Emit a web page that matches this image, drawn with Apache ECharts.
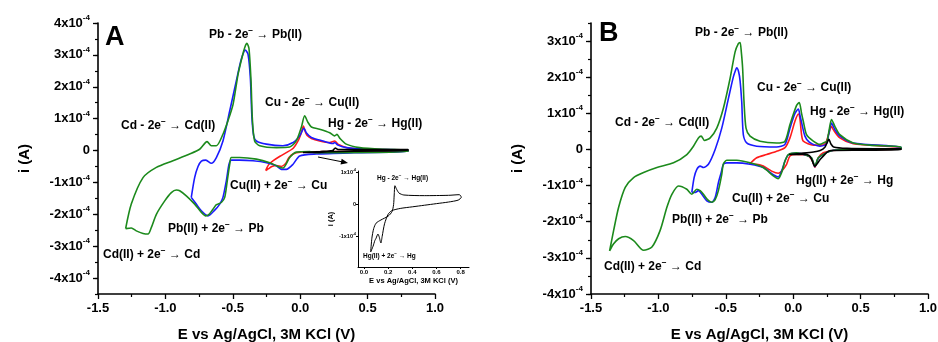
<!DOCTYPE html>
<html>
<head>
<meta charset="utf-8">
<script src="https://cdn.jsdelivr.net/npm/echarts@6/dist/echarts.min.js"></script>
<style>
    html, body { margin: 0; padding: 0; background: #fff; }
    #chart { width: 938px; height: 342px; }
</style>
</head>
<body>
<div id="chart"></div>
<script>
// 电位 E (V) 与电流 i (单位 1x10^-4 A)
// A 图
const aGreen = [
    [-1.295, -2.45], [-1.253, -1.68], [-1.166, -0.85], [-1.067, -0.53], [-0.944, -0.32], [-0.82, -0.11],
    [-0.746, 0.04], [-0.691, 0.28], [-0.659, 0.15], [-0.622, 0.15], [-0.573, 0.51], [-0.536, 0.93],
    [-0.498, 1.45], [-0.461, 2.39], [-0.43, 2.95], [-0.41, 3.25], [-0.395, 3.36], [-0.38, 3.2],
    [-0.365, 2.2], [-0.355, 1.0], [-0.338, 0.3], [-0.3, 0.15], [-0.177, 0.09], [-0.078, 0.11],
    [-0.029, 0.3], [0.008, 0.72], [0.033, 1.09], [0.058, 0.88], [0.083, 0.74], [0.144, 0.67],
    [0.219, 0.56], [0.256, 0.46], [0.273, 0.51], [0.293, 0.39], [0.342, 0.2], [0.441, 0.09],
    [0.614, 0.04], [0.8, 0.02],
    [0.8, -0.03], [0.5, -0.06], [0.12, -0.07], [0.07, -0.03], [-0.029, -0.05], [-0.078, -0.22],
    [-0.128, -0.55], [-0.165, -0.5], [-0.226, -0.38], [-0.325, -0.27], [-0.449, -0.22], [-0.511, -0.22],
    [-0.523, -0.43], [-0.541, -0.95], [-0.56, -1.47], [-0.585, -1.63], [-0.622, -1.7], [-0.647, -1.84],
    [-0.676, -2.0], [-0.701, -2.05], [-0.733, -1.94], [-0.783, -1.68], [-0.845, -1.42], [-0.894, -1.26],
    [-0.919, -1.24], [-0.956, -1.32], [-1.005, -1.58], [-1.067, -2.0], [-1.104, -2.41], [-1.129, -2.62],
    [-1.166, -2.6], [-1.216, -2.52], [-1.253, -2.43], [-1.295, -2.45]
];
const aBlue = [
    [-0.808, -1.47], [-0.783, -0.85], [-0.758, -0.5], [-0.733, -0.33], [-0.7, -0.3], [-0.66, -0.4],
    [-0.622, -0.22], [-0.573, 0.3], [-0.523, 1.24], [-0.474, 2.18], [-0.437, 2.86], [-0.407, 3.15],
    [-0.387, 3.02], [-0.37, 2.29], [-0.358, 1.03], [-0.345, 0.46], [-0.325, 0.3], [-0.251, 0.2],
    [-0.128, 0.15], [-0.053, 0.25], [-0.004, 0.46], [0.028, 0.7], [0.045, 0.56], [0.083, 0.41],
    [0.169, 0.3], [0.243, 0.22], [0.256, 0.25], [0.28, 0.17], [0.342, 0.09], [0.49, 0.04], [0.8, 0.01],
    [0.8, -0.03], [0.4, -0.07], [0.12, -0.11], [-0.004, -0.17], [-0.053, -0.43], [-0.103, -0.59],
    [-0.14, -0.59], [-0.177, -0.48], [-0.25, -0.38], [-0.35, -0.32], [-0.449, -0.3], [-0.511, -0.3],
    [-0.528, -0.43], [-0.548, -0.95], [-0.573, -1.47], [-0.597, -1.68], [-0.634, -1.87], [-0.684, -2.05],
    [-0.733, -1.89], [-0.771, -1.68], [-0.808, -1.47]
];
const aRed = [
    [-0.256, -0.63], [-0.235, -0.45], [-0.2, -0.32], [-0.15, -0.18], [-0.1, -0.06], [-0.05, 0.08],
    [-0.016, 0.3], [0.008, 0.55], [0.024, 0.77], [0.035, 0.62], [0.05, 0.48], [0.083, 0.38],
    [0.144, 0.3], [0.219, 0.25], [0.256, 0.3], [0.28, 0.2], [0.367, 0.07], [0.55, 0.03], [0.8, 0.02],
    [0.8, -0.02], [0.4, -0.03], [0.1, -0.04], [0.0, -0.05], [-0.05, -0.1], [-0.083, -0.22],
    [-0.108, -0.41], [-0.14, -0.5], [-0.175, -0.47], [-0.21, -0.5], [-0.235, -0.57], [-0.256, -0.63]
];
const aBlack = [
    [0.02, -0.06], [0.15, -0.03], [0.24, 0.0], [0.26, 0.08], [0.28, 0.03], [0.4, 0.03], [0.8, 0.03],
    [0.8, 0.0], [0.4, -0.02], [0.2, -0.04], [0.1, -0.06], [0.02, -0.06]
];
// A 图中的小图
const insetBlack = [
    [0.055, -1.48], [0.065, -1.05], [0.08, -0.75], [0.1, -0.58], [0.14, -0.48], [0.2, -0.36],
    [0.232, -0.22], [0.245, 0.0], [0.25, 0.3], [0.256, 0.59], [0.27, 0.48], [0.29, 0.36], [0.33, 0.3],
    [0.5, 0.28], [0.7, 0.29], [0.79, 0.31], [0.806, 0.23], [0.78, 0.14], [0.7, 0.08], [0.6, 0.03],
    [0.5, -0.02], [0.4, -0.07], [0.3, -0.12], [0.23, -0.19], [0.2, -0.3], [0.17, -0.6], [0.15, -1.0],
    [0.14, -1.2], [0.125, -1.0], [0.115, -0.92], [0.1, -1.05], [0.09, -1.12], [0.075, -1.3], [0.055, -1.48]
];
// B 图
const bGreen = [
    [-1.362, -2.81], [-1.332, -2.24], [-1.295, -1.6], [-1.246, -1.05], [-1.184, -0.78], [-1.11, -0.64],
    [-1.011, -0.5], [-0.888, -0.37], [-0.789, -0.14], [-0.74, 0.09], [-0.703, 0.32], [-0.683, 0.37],
    [-0.658, 0.25], [-0.616, 0.32], [-0.567, 0.59], [-0.518, 1.14], [-0.468, 1.97], [-0.431, 2.7],
    [-0.407, 2.93], [-0.394, 2.96], [-0.385, 2.7], [-0.375, 2.24], [-0.365, 1.33], [-0.35, 0.59],
    [-0.32, 0.37], [-0.246, 0.23], [-0.123, 0.18], [-0.061, 0.23], [-0.024, 0.69], [0.025, 1.22],
    [0.045, 1.3], [0.062, 1.0], [0.075, 0.78], [0.099, 0.41], [0.149, 0.23], [0.198, 0.14], [0.235, 0.2],
    [0.25, 0.22], [0.265, 0.5], [0.284, 0.83], [0.309, 0.64], [0.346, 0.41], [0.445, 0.18], [0.568, 0.12],
    [0.8, 0.07],
    [0.8, 0.02], [0.5, 0.0], [0.3, -0.02], [0.25, -0.08], [0.186, -0.23], [0.161, -0.46], [0.136, -0.23],
    [0.099, -0.16], [0.025, -0.09], [-0.036, -0.14], [-0.061, -0.32], [-0.086, -0.64], [-0.111, -0.81],
    [-0.148, -0.73], [-0.222, -0.5], [-0.32, -0.37], [-0.419, -0.3], [-0.493, -0.3], [-0.518, -0.4],
    [-0.53, -0.69], [-0.555, -1.14], [-0.579, -1.39], [-0.604, -1.46], [-0.636, -1.39], [-0.666, -1.24],
    [-0.69, -1.14], [-0.715, -1.1], [-0.752, -1.24], [-0.789, -1.1], [-0.851, -1.01], [-0.9, -1.24],
    [-0.937, -1.6], [-0.987, -2.24], [-1.048, -2.7], [-1.11, -2.79], [-1.184, -2.52], [-1.246, -2.41],
    [-1.295, -2.47], [-1.332, -2.61], [-1.362, -2.81]
];
const bBlue = [
    [-0.752, -1.19], [-0.735, -0.78], [-0.715, -0.55], [-0.69, -0.46], [-0.666, -0.5], [-0.629, -0.41],
    [-0.579, 0.0], [-0.53, 0.59], [-0.48, 1.42], [-0.444, 2.01], [-0.425, 2.22], [-0.419, 2.26],
    [-0.405, 2.15], [-0.394, 1.9], [-0.382, 1.33], [-0.37, 0.41], [-0.345, 0.18], [-0.271, 0.09],
    [-0.123, 0.07], [-0.061, 0.14], [-0.024, 0.59], [0.013, 1.0], [0.038, 1.12], [0.05, 0.95],
    [0.062, 0.75], [0.087, 0.37], [0.12, 0.2], [0.198, 0.09], [0.235, 0.12], [0.25, 0.18], [0.265, 0.45],
    [0.284, 0.73], [0.309, 0.55], [0.346, 0.37], [0.445, 0.18], [0.8, 0.06],
    [0.8, 0.02], [0.5, 0.0], [0.3, -0.02], [0.25, -0.08], [0.186, -0.24], [0.161, -0.48], [0.136, -0.24],
    [0.099, -0.16], [0.025, -0.1], [-0.036, -0.15], [-0.061, -0.32], [-0.086, -0.6], [-0.111, -0.76],
    [-0.148, -0.7], [-0.222, -0.5], [-0.32, -0.41], [-0.419, -0.37], [-0.493, -0.37], [-0.518, -0.41],
    [-0.535, -0.65], [-0.555, -0.92], [-0.579, -1.33], [-0.604, -1.46], [-0.641, -1.42], [-0.678, -1.24],
    [-0.703, -1.14], [-0.727, -1.19], [-0.752, -1.19]
];
const bRed = [
    [-0.325, -0.41], [-0.271, -0.23], [-0.197, -0.14], [-0.123, -0.05], [-0.061, 0.05], [-0.024, 0.32],
    [0.013, 0.78], [0.038, 0.98], [0.05, 0.85], [0.062, 0.41], [0.075, 0.23], [0.149, 0.12], [0.223, 0.12],
    [0.247, 0.23], [0.265, 0.45], [0.284, 0.64], [0.297, 0.55], [0.346, 0.32], [0.445, 0.16], [0.8, 0.05],
    [0.8, 0.01], [0.5, -0.01], [0.321, -0.02], [0.223, -0.09], [0.186, -0.23], [0.161, -0.49],
    [0.136, -0.27], [0.099, -0.16], [0.025, -0.14], [-0.024, -0.18], [-0.049, -0.41], [-0.086, -0.6],
    [-0.111, -0.66], [-0.16, -0.6], [-0.222, -0.46], [-0.271, -0.41], [-0.325, -0.41]
];
const bBlack = [
    [-0.03, -0.14], [0.05, -0.11], [0.15, -0.07], [0.2, -0.03], [0.235, 0.06], [0.255, 0.22],
    [0.265, 0.28], [0.28, 0.15], [0.3, 0.07], [0.4, 0.03], [0.6, 0.02], [0.8, 0.02],
    [0.8, -0.01], [0.5, -0.02], [0.28, -0.03], [0.25, -0.08], [0.2, -0.28], [0.16, -0.46], [0.14, -0.3],
    [0.12, -0.17], [0.08, -0.13], [0.0, -0.14], [-0.03, -0.14]
];

// 刻度
const aCurrentTicks = [-4, -3, -2, -1, 0, 1, 2, 3, 4];
const bCurrentTicks = [-4, -3, -2, -1, 0, 1, 2, 3];
const insetETicks = [0.0, 0.2, 0.4, 0.6, 0.8];
const insetCurrentTicks = [-1, 0, 1];

const FONT = 'Liberation Sans, Arial, sans-serif';
const GREEN = '#1c8a1c';
const BLUE = '#1a1aff';
const RED = '#ff1a1a';
const BLACK = '#000';

function powLabel(v) {
    if (Math.abs(v - Math.round(v)) > 1e-6) return '';
    v = Math.round(v);
    if (v === 0) return '{b|0}';
    return '{b|' + v + 'x10}{s|-4}';
}

function labelRich(size) {
    return {
        b: { fontSize: size, fontWeight: 'bold', fontFamily: FONT, color: '#000', lineHeight: size * 1.4 },
        s: { fontSize: size * 0.62, fontWeight: 'bold', fontFamily: FONT, color: '#000', verticalAlign: 'top', lineHeight: size * 0.8 }
    };
}

function mainXAxis(grid) {
    return {
        gridIndex: grid, type: 'value', min: -1.5, max: 1.0, interval: 0.5,
        axisLine: { show: true, onZero: false, lineStyle: { color: '#000', width: 1.6 } },
        axisTick: { show: true, length: 5, lineStyle: { color: '#000', width: 1.3 } },
        minorTick: { show: true, splitNumber: 2, length: 3, lineStyle: { color: '#000', width: 1.2 } },
        splitLine: { show: false },
        axisLabel: { margin: 8, fontSize: 13, fontWeight: 'bold', fontFamily: FONT, color: '#000',
            formatter: v => v.toFixed(1) },
        name: 'E vs Ag/AgCl, 3M KCl (V)', nameLocation: 'middle', nameGap: 33,
        nameTextStyle: { fontSize: 15, fontWeight: 'bold', fontFamily: FONT, color: '#000' }
    };
}

function mainYAxis(grid, min, max) {
    return {
        gridIndex: grid, type: 'value', min: min, max: max, interval: 0.5, position: 'left',
        axisLine: { show: true, onZero: false, lineStyle: { color: '#000', width: 1.6 } },
        axisTick: { show: true, length: 3, lineStyle: { color: '#000', width: 1.2 } },
        splitLine: { show: false },
        axisLabel: { margin: 8, formatter: powLabel, rich: labelRich(13) },
        name: 'i (A)', nameLocation: 'middle', nameGap: 66, nameRotate: 90,
        nameTextStyle: { fontSize: 15, fontWeight: 'bold', fontFamily: FONT, color: '#000' }
    };
}

// 只画长的主刻度
function majorTickAxis(grid, min, max, ticks) {
    return {
        gridIndex: grid, type: 'value', min: min, max: max, position: 'left',
        axisLine: { show: false, onZero: false },
        axisTick: { show: true, length: 5, customValues: ticks, lineStyle: { color: '#000', width: 1.3 } },
        axisLabel: { show: false },
        splitLine: { show: false }
    };
}

function curve(name, data, color, xi, yi, width) {
    return {
        name: name, type: 'line', data: data, xAxisIndex: xi, yAxisIndex: yi,
        showSymbol: false, smooth: 0.25, clip: true,
        lineStyle: { color: color, width: width || 1.6 },
        emphasis: { disabled: true }
    };
}

function note(x, y, pre, post, size) {
    size = size || 12;
    return {
        type: 'text', left: x, top: y - size * 0.7, z: 50,
        style: {
            text: '{t|' + pre + '}{s|−}{t|' + post + '}',
            rich: {
                t: { fontSize: size, fontWeight: 'bold', fontFamily: FONT, fill: '#000', lineHeight: size * 1.4 },
                s: { fontSize: size * 0.7, fontWeight: 'bold', fontFamily: FONT, fill: '#000', verticalAlign: 'top', lineHeight: size * 0.8 }
            }
        }
    };
}

const chart = echarts.init(document.getElementById('chart'));

const option = {
    backgroundColor: '#fff',
    animation: false,
    grid: [
        { left: 98, top: 23, width: 337, height: 271, outerBoundsMode: 'none' },
        { left: 591, top: 23, width: 337, height: 271, outerBoundsMode: 'none' },
        { left: 358, top: 171, width: 111, height: 96, outerBoundsMode: 'none' }
    ],
    xAxis: [
        mainXAxis(0),
        mainXAxis(1),
        {
            gridIndex: 2, type: 'value', min: -0.05, max: 0.87,
            axisLine: { show: true, onZero: false, lineStyle: { color: '#000', width: 1 } },
            axisTick: { show: true, length: 2, customValues: insetETicks, lineStyle: { color: '#000' } },
            splitLine: { show: false },
            axisLabel: { customValues: insetETicks, margin: 2, fontSize: 6, fontWeight: 'bold', fontFamily: FONT,
                color: '#000', formatter: v => v.toFixed(1) },
            name: 'E vs Ag/AgCl, 3M KCl (V)', nameLocation: 'middle', nameGap: 10,
            nameTextStyle: { fontSize: 7.5, fontWeight: 'bold', fontFamily: FONT, color: '#000' }
        }
    ],
    yAxis: [
        mainYAxis(0, -4.5, 4),
        mainYAxis(1, -4, 3.5),
        {
            gridIndex: 2, type: 'value', min: -1.95, max: 1.05, position: 'left',
            axisLine: { show: true, onZero: false, lineStyle: { color: '#000', width: 1 } },
            axisTick: { show: true, length: 2, customValues: insetCurrentTicks, lineStyle: { color: '#000' } },
            splitLine: { show: false },
            axisLabel: { customValues: insetCurrentTicks, margin: 2, formatter: powLabel, rich: labelRich(5.5) },
            name: 'i (A)', nameLocation: 'middle', nameGap: 18, nameRotate: 90,
            nameTextStyle: { fontSize: 7.5, fontWeight: 'bold', fontFamily: FONT, color: '#000' }
        },
        majorTickAxis(0, -4.5, 4, aCurrentTicks),
        majorTickAxis(1, -4, 3.5, bCurrentTicks)
    ],
    series: [
        curve('A red', aRed, RED, 0, 0),
        curve('A blue', aBlue, BLUE, 0, 0),
        curve('A green', aGreen, GREEN, 0, 0),
        curve('A black', aBlack, BLACK, 0, 0),
        curve('inset', insetBlack, BLACK, 2, 2, 1),
        curve('B red', bRed, RED, 1, 1),
        curve('B blue', bBlue, BLUE, 1, 1),
        curve('B green', bGreen, GREEN, 1, 1),
        curve('B black', bBlack, BLACK, 1, 1)
    ],
    graphic: [
        { type: 'text', left: 105, top: 24, style: { text: 'A', fontSize: 27, fontWeight: 'bold', fontFamily: FONT, fill: '#000' } },
        { type: 'text', left: 599, top: 20, style: { text: 'B', fontSize: 27, fontWeight: 'bold', fontFamily: FONT, fill: '#000' } },
        note(209, 35, 'Pb - 2e', ' → Pb(II)'),
        note(265, 103, 'Cu - 2e', ' → Cu(II)'),
        note(328, 124, 'Hg - 2e', ' → Hg(II)'),
        note(121, 126, 'Cd - 2e', ' → Cd(II)'),
        note(230, 186, 'Cu(II) + 2e', ' → Cu'),
        note(168, 229, 'Pb(II) + 2e', ' → Pb'),
        note(103, 255, 'Cd(II) + 2e', ' → Cd'),
        note(377, 178, 'Hg - 2e', ' → Hg(II)', 6.5),
        note(363, 256, 'Hg(II) + 2e', ' → Hg', 6.5),
        { type: 'line', shape: { x1: 318, y1: 157, x2: 343, y2: 162 }, style: { stroke: '#000', lineWidth: 1 } },
        { type: 'polygon', shape: { points: [[348, 163], [340.5, 164.5], [341.7, 158.7]] }, style: { fill: '#000' } },
        note(695, 33, 'Pb - 2e', ' → Pb(II)'),
        note(757, 88, 'Cu - 2e', ' → Cu(II)'),
        note(810, 112, 'Hg - 2e', ' → Hg(II)'),
        note(615, 123, 'Cd - 2e', ' → Cd(II)'),
        note(796, 181, 'Hg(II) + 2e', ' → Hg'),
        note(732, 199, 'Cu(II) + 2e', ' → Cu'),
        note(672, 220, 'Pb(II) + 2e', ' → Pb'),
        note(604, 267, 'Cd(II) + 2e', ' → Cd')
    ]
};

chart.setOption(option);
</script>
</body>
</html>
